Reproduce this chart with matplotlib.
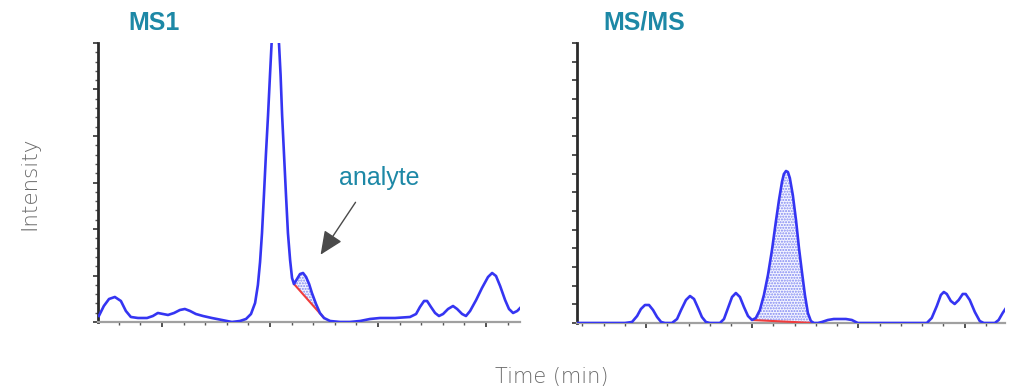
import matplotlib
matplotlib.use("Agg")
import matplotlib.pyplot as plt
import numpy as np
from matplotlib.ticker import MultipleLocator, NullFormatter

# --- MS1 extracted ion chromatogram (time in min, intensity in arbitrary units)
ms1_time = [0.708, 0.731, 0.755, 0.782, 0.810, 0.833, 0.856, 0.889, 0.931, 0.958,
            0.981, 1.005, 1.028, 1.056, 1.083, 1.106, 1.130, 1.157, 1.190, 1.231,
            1.278, 1.324, 1.361, 1.389, 1.412, 1.431, 1.444, 1.454, 1.463, 1.472,
            1.481, 1.491, 1.500, 1.507, 1.514, 1.523, 1.532, 1.542, 1.549, 1.556,
            1.565, 1.574, 1.583, 1.593, 1.602, 1.611, 1.625, 1.639, 1.653, 1.667,
            1.681, 1.694, 1.713, 1.731, 1.750, 1.778, 1.824, 1.870, 1.917, 1.963,
            2.009, 2.079, 2.148, 2.176, 2.194, 2.213, 2.227, 2.245, 2.264, 2.282,
            2.301, 2.324, 2.347, 2.366, 2.389, 2.407, 2.426, 2.454, 2.481, 2.509,
            2.528, 2.546, 2.565, 2.588, 2.606, 2.625, 2.644, 2.662]
ms1_intensity = [1.29, 3.44, 4.95, 5.38, 4.52, 2.37, 1.08, 0.86, 0.86, 1.29,
                 1.94, 1.72, 1.51, 1.94, 2.58, 2.80, 2.37, 1.72, 1.29, 0.86,
                 0.43, 0.00, 0.22, 0.65, 1.72, 4.09, 7.96, 12.91, 19.14, 27.32,
                 35.92, 44.53, 53.13, 59.58, 66.04, 70.34, 66.04, 59.58, 53.13, 44.53,
                 35.92, 27.32, 19.14, 13.34, 9.46, 8.17, 9.25, 10.32, 10.54, 9.68,
                 8.17, 6.24, 3.87, 1.94, 0.86, 0.22, 0.00, 0.00, 0.22, 0.65,
                 0.86, 0.86, 1.08, 1.72, 3.23, 4.52, 4.52, 3.23, 1.94, 1.29,
                 1.72, 2.80, 3.44, 2.80, 1.72, 1.29, 2.37, 4.73, 7.31, 9.68,
                 10.54, 9.89, 7.74, 4.73, 2.80, 1.94, 2.37, 3.23]
ms1_peak_start = (1.611, 8.17)
ms1_peak_end = (1.750, 0.86)

# --- MS/MS transition chromatogram
msms_time = [2.675, 2.784, 2.901, 2.934, 2.958, 2.976, 2.995, 3.014, 3.033, 3.052,
             3.071, 3.089, 3.122, 3.146, 3.165, 3.188, 3.207, 3.226, 3.245, 3.263,
             3.282, 3.301, 3.348, 3.367, 3.386, 3.405, 3.423, 3.442, 3.461, 3.480,
             3.499, 3.517, 3.536, 3.555, 3.574, 3.593, 3.611, 3.626, 3.640, 3.649,
             3.659, 3.668, 3.677, 3.691, 3.706, 3.720, 3.734, 3.748, 3.762, 3.776,
             3.790, 3.809, 3.828, 3.856, 3.884, 3.941, 3.969, 3.997, 4.054, 4.195,
             4.322, 4.345, 4.369, 4.388, 4.402, 4.416, 4.435, 4.453, 4.472, 4.491,
             4.505, 4.524, 4.548, 4.571, 4.590, 4.642, 4.660, 4.679, 4.698]
msms_intensity = [0.00, 0.00, 0.00, 0.54, 3.75, 7.50, 9.64, 9.64, 6.96, 3.21,
                  0.54, 0.00, 0.00, 2.14, 6.96, 12.32, 14.46, 12.86, 8.04, 3.21,
                  0.54, 0.00, 0.00, 2.14, 8.04, 13.93, 16.07, 13.93, 8.57, 3.75,
                  1.61, 2.68, 6.96, 15.00, 25.71, 39.11, 54.11, 65.89, 75.53, 79.82,
                  81.43, 80.89, 77.68, 68.57, 55.18, 40.18, 27.32, 15.00, 5.36, 1.07,
                  0.00, 0.00, 0.54, 1.61, 2.14, 2.14, 1.61, 0.00, 0.00, 0.00,
                  0.00, 2.68, 9.11, 15.00, 16.61, 15.54, 11.79, 10.18, 12.32, 15.54,
                  15.54, 12.32, 5.89, 1.07, 0.00, 0.00, 1.61, 5.36, 8.57]
msms_peak_start = (3.499, 1.61)
msms_peak_end = (3.790, 0.00)

panel_titles = ["MS1", "MS/MS"]
annotation_label = "analyte"
y_label = "Intensity"
x_label = "Time (min)"

TRACE = "#3535f2"
HATCH = "#8088f2"
BASELINE = "#f03c3c"
TEAL = "#1d88a6"
LABEL_GRAY = "#6a6a6a"

plt.rcParams["hatch.linewidth"] = 1.0

fig = plt.figure(figsize=(10.25, 3.92), dpi=100)
ax1 = fig.add_axes([98 / 1025, 70 / 392, 422 / 1025, 279 / 392])
ax2 = fig.add_axes([577 / 1025, 69 / 392, 428 / 1025, 280 / 392])


def style_axes(ax, xlim, ylim, ymajor, yminor):
    ax.set_xlim(*xlim)
    ax.set_ylim(*ylim)
    for s in ("top", "right"):
        ax.spines[s].set_visible(False)
    ax.spines["left"].set_color("#2b2b2b")
    ax.spines["left"].set_linewidth(2.0)
    ax.spines["bottom"].set_color("#a0a0a0")
    ax.spines["bottom"].set_linewidth(1.6)
    ax.xaxis.set_major_locator(MultipleLocator(0.5))
    ax.xaxis.set_minor_locator(MultipleLocator(0.1))
    ax.yaxis.set_major_locator(MultipleLocator(ymajor))
    if yminor:
        ax.yaxis.set_minor_locator(MultipleLocator(yminor))
    ax.tick_params(axis="both", which="major", direction="out", length=3.5,
                   width=1.2, color="#333333", labelleft=False, labelbottom=False)
    ax.tick_params(axis="both", which="minor", direction="out", length=2,
                   width=1.0, color="#555555")
    ax.xaxis.set_major_formatter(NullFormatter())
    ax.yaxis.set_major_formatter(NullFormatter())


def draw_trace(ax, t, y, start, end):
    t = np.asarray(t)
    y = np.asarray(y)
    (t0, y0), (t1, y1) = start, end
    sel = (t >= t0) & (t <= t1)
    base = y0 + (y1 - y0) * (t[sel] - t0) / (t1 - t0)
    ax.fill_between(t[sel], base, y[sel], facecolor="#f4f5ff", edgecolor=HATCH,
                    hatch="......", linewidth=0, zorder=2)
    ax.plot([t0, t1], [y0, y1], color=BASELINE, lw=1.5, zorder=3)
    ax.plot(t, y, color=TRACE, lw=1.9, solid_joinstyle="round", zorder=4)


style_axes(ax1, (0.704, 2.657), (0, 60), 10, 2)
draw_trace(ax1, ms1_time, ms1_intensity, ms1_peak_start, ms1_peak_end)

style_axes(ax2, (2.675, 4.690), (0, 150), 10, None)
draw_trace(ax2, msms_time, msms_intensity, msms_peak_start, msms_peak_end)

# analyte label with arrow pointing at the shoulder peak
ax1.annotate("", xy=(1.727, 13.98), xytext=(1.903, 26.24),
             arrowprops=dict(arrowstyle="-|>,head_length=0.9,head_width=0.4",
                             color="#4a4a4a", lw=1.0, mutation_scale=16),
             zorder=5)
ax1.text(2.005, 29.47, annotation_label, color=TEAL, fontsize=18,
         family="Liberation Sans", ha="center", va="baseline")

fig.text(128 / 1025, 1 - 30 / 392, panel_titles[0], color=TEAL, fontsize=18,
         fontweight="bold", family="Liberation Sans", ha="left", va="baseline")
fig.text(603 / 1025, 1 - 30 / 392, panel_titles[1], color=TEAL, fontsize=18,
         fontweight="bold", family="Liberation Sans", ha="left", va="baseline")

fig.text(29 / 1025, 1 - 183 / 392, y_label, rotation=90, color=LABEL_GRAY,
         fontsize=15.5, family="DejaVu Sans", fontweight="light",
         ha="center", va="center")
fig.text(552 / 1025, 1 - 377 / 392, x_label, color=LABEL_GRAY, fontsize=15,
         family="DejaVu Sans", fontweight="light", ha="center", va="center")

fig.savefig("out.png", dpi=100)
